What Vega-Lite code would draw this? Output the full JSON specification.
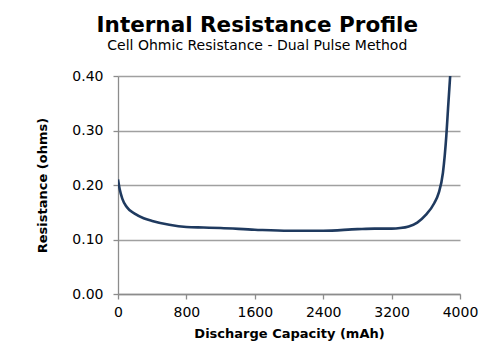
{
  "$schema": "https://vega.github.io/schema/vega-lite/v6.json",
  "width": 342,
  "height": 218,
  "autosize": {"type": "none"},
  "padding": {"left": 118, "top": 76, "right": 29, "bottom": 56},
  "background": "white",
  "title": {
    "text": "Internal Resistance Profile",
    "subtitle": "Cell Ohmic Resistance - Dual Pulse Method",
    "font": "DejaVu Sans",
    "fontSize": 21.5,
    "fontWeight": "bold",
    "color": "black",
    "subtitleFont": "DejaVu Sans",
    "subtitleFontSize": 14,
    "subtitleColor": "black",
    "subtitlePadding": 3,
    "anchor": "middle",
    "frame": "bounds",
    "offset": 16
  },
  "config": {
    "view": {"stroke": null},
    "axis": {
      "labelFont": "DejaVu Sans",
      "labelFontSize": 14,
      "labelColor": "black",
      "titleFont": "DejaVu Sans",
      "titleFontSize": 13,
      "titleFontWeight": "bold",
      "titleColor": "black",
      "domainColor": "#8c8c8c",
      "tickColor": "#8c8c8c",
      "gridColor": "#a0a0a0",
      "gridWidth": 1.3,
      "domainWidth": 1.3,
      "tickWidth": 1.3,
      "tickSize": 5
    }
  },
  "data": {
    "values": [
      {"capacity": 0, "resistance": 0.210},
      {"capacity": 20, "resistance": 0.192},
      {"capacity": 50, "resistance": 0.175},
      {"capacity": 100, "resistance": 0.160},
      {"capacity": 200, "resistance": 0.147},
      {"capacity": 300, "resistance": 0.139},
      {"capacity": 400, "resistance": 0.134},
      {"capacity": 600, "resistance": 0.127},
      {"capacity": 800, "resistance": 0.123},
      {"capacity": 1000, "resistance": 0.122},
      {"capacity": 1200, "resistance": 0.121},
      {"capacity": 1600, "resistance": 0.118},
      {"capacity": 2000, "resistance": 0.116},
      {"capacity": 2400, "resistance": 0.116},
      {"capacity": 2800, "resistance": 0.119},
      {"capacity": 3000, "resistance": 0.120},
      {"capacity": 3200, "resistance": 0.120},
      {"capacity": 3300, "resistance": 0.121},
      {"capacity": 3400, "resistance": 0.124},
      {"capacity": 3500, "resistance": 0.131},
      {"capacity": 3600, "resistance": 0.145},
      {"capacity": 3700, "resistance": 0.167},
      {"capacity": 3750, "resistance": 0.185},
      {"capacity": 3800, "resistance": 0.222},
      {"capacity": 3840, "resistance": 0.290},
      {"capacity": 3860, "resistance": 0.340},
      {"capacity": 3885, "resistance": 0.400}
    ]
  },
  "mark": {"type": "line", "color": "#1f3a5f", "strokeWidth": 2.6, "interpolate": "monotone", "clip": true},
  "encoding": {
    "x": {
      "field": "capacity",
      "type": "quantitative",
      "title": "Discharge Capacity (mAh)",
      "scale": {"domain": [0, 4000], "nice": false},
      "axis": {"values": [0, 800, 1600, 2400, 3200, 4000], "format": "d", "grid": false, "labelPadding": 6, "titlePadding": 8, "labelFlush": false}
    },
    "y": {
      "field": "resistance",
      "type": "quantitative",
      "title": "Resistance (ohms)",
      "scale": {"domain": [0, 0.4], "nice": false},
      "axis": {"values": [0, 0.1, 0.2, 0.3, 0.4], "format": ".2f", "grid": true, "labelPadding": 10, "titlePadding": 22}
    }
  }
}
